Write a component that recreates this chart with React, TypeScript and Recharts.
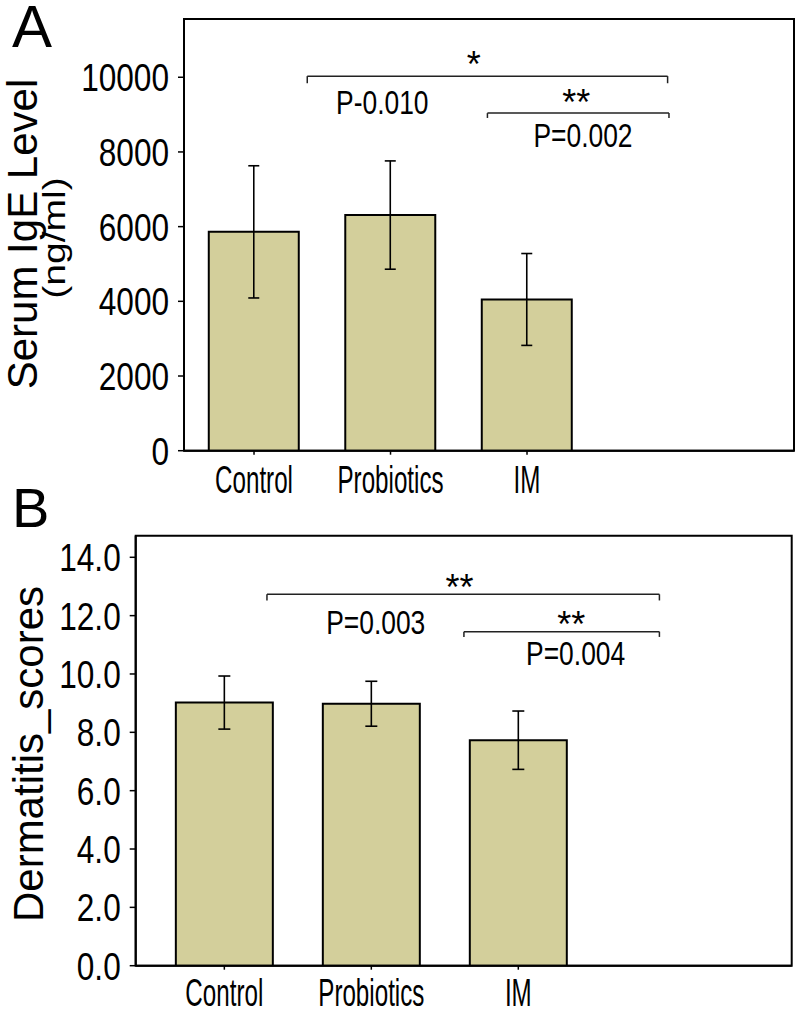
import React from 'react';
import {
  ComposedChart,
  Bar,
  XAxis,
  YAxis,
  ErrorBar,
  ReferenceLine,
  ReferenceDot,
  ReferenceArea,
} from 'recharts';

// ---------- data ----------
const groups = ['Control', 'Probiotics', 'IM'];
const groupPos = [1, 2, 3];

const igeMean = [5860, 6310, 4050];
const igeSD = [1770, 1450, 1230];
const igeTicks = [0, 2000, 4000, 6000, 8000, 10000];

const dermMean = [9.02, 8.98, 7.73];
const dermSD = [0.91, 0.77, 1.0];
const dermTicks = [0, 2, 4, 6, 8, 10, 12, 14];

// significance annotations (data coordinates)
const igeBrackets = [
  { x1: 1.39, x2: 4.03, y: 10030, yEnd: 9840 },
  { x1: 2.71, x2: 4.04, y: 9040, yEnd: 8910 },
];
const igeLabels = [
  { x: 2.61, y: 10530, text: '*', kind: 'star' },
  { x: 1.94, y: 9340, text: 'P-0.010', kind: 'p' },
  { x: 3.36, y: 9520, text: '**', kind: 'star' },
  { x: 3.41, y: 8440, text: 'P=0.002', kind: 'p' },
];

const dermBrackets = [
  { x1: 1.29, x2: 3.96, y: 12.73, yEnd: 12.52 },
  { x1: 2.63, x2: 3.96, y: 11.45, yEnd: 11.27 },
];
const dermLabels = [
  { x: 2.6, y: 13.22, text: '**', kind: 'star' },
  { x: 2.03, y: 11.79, text: 'P=0.003', kind: 'p' },
  { x: 3.36, y: 11.93, text: '**', kind: 'star' },
  { x: 3.39, y: 10.70, text: 'P=0.004', kind: 'p' },
];

const igeData = groups.map((g, i) => ({ name: g, pos: groupPos[i], mean: igeMean[i], sd: igeSD[i] }));
const dermData = groups.map((g, i) => ({ name: g, pos: groupPos[i], mean: dermMean[i], sd: dermSD[i] }));

const FONT = "'Liberation Sans', Arial, Helvetica, sans-serif";
const BAR_FILL = '#D3CF9B';

const makeYTick = (fmt: (v: number) => string) => (props: any) => {
  const { x, y, payload } = props;
  return (
    <text
      transform={`translate(${x},${y}) scale(0.81,1)`}
      textAnchor="end"
      dy="0.36em"
      fontSize={39}
      fontFamily={FONT}
      fill="#000"
    >
      {fmt(payload.value)}
    </text>
  );
};

const makeXTick = (dy: number) => (props: any) => {
  const { x, y, payload } = props;
  const idx = groupPos.indexOf(payload.value);
  return (
    <text
      transform={`translate(${x},${y + dy}) scale(0.62,1)`}
      textAnchor="middle"
      fontSize={39}
      fontFamily={FONT}
      fill="#000"
    >
      {idx >= 0 ? groups[idx] : ''}
    </text>
  );
};

const annotationShape = (text: string, kind: string) => (p: any) => {
  const { cx, cy } = p;
  if (kind === 'star') {
    return (
      <text x={cx} y={cy} dy="0.55em" textAnchor="middle" fontSize={36} fontFamily={FONT} fill="#000">
        {text}
      </text>
    );
  }
  return (
    <text
      transform={`translate(${cx},${cy}) scale(0.8,1)`}
      dy="0.36em"
      textAnchor="middle"
      fontSize={33}
      fontFamily={FONT}
      fill="#000"
    >
      {text}
    </text>
  );
};

type PanelProps = {
  data: any[];
  width: number;
  height: number;
  margin: any;
  xAxisHeight: number;
  xDomain: [number, number];
  yDomain: [number, number];
  yTicks: number[];
  yFmt: (v: number) => string;
  barSize: number;
  capWidth: number;
  xTickDy: number;
  brackets: any[];
  labels: any[];
};

const Panel = (p: PanelProps) => (
  <ComposedChart width={p.width} height={p.height} data={p.data} margin={p.margin}>
    <XAxis
      type="number"
      dataKey="pos"
      domain={p.xDomain}
      allowDataOverflow
      ticks={groupPos}
      interval={0}
      height={p.xAxisHeight}
      tickSize={4}
      tickMargin={0}
      tick={makeXTick(p.xTickDy)}
      axisLine={{ stroke: '#000', strokeWidth: 2 }}
      tickLine={{ stroke: '#000', strokeWidth: 1.5 }}
    />
    <YAxis
      type="number"
      domain={p.yDomain}
      allowDataOverflow
      ticks={p.yTicks}
      interval={0}
      width={100}
      tickSize={6}
      tickMargin={9}
      tick={makeYTick(p.yFmt)}
      axisLine={{ stroke: '#000', strokeWidth: 2 }}
      tickLine={{ stroke: '#000', strokeWidth: 1.5 }}
    />
    <ReferenceArea
      x1={p.xDomain[0]}
      x2={p.xDomain[1]}
      y1={p.yDomain[0]}
      y2={p.yDomain[1]}
      fill="none"
      fillOpacity={0}
      stroke="#000"
      strokeWidth={2}
      ifOverflow="visible"
    />
    <Bar dataKey="mean" fill={BAR_FILL} stroke="#000" strokeWidth={2} barSize={p.barSize} isAnimationActive={false}>
      <ErrorBar dataKey="sd" direction="y" width={p.capWidth} stroke="#000" strokeWidth={1.6} isAnimationActive={false} />
    </Bar>
    {p.brackets.map((b, i) => (
      <ReferenceLine
        key={`h${i}`}
        segment={[{ x: b.x1, y: b.y }, { x: b.x2, y: b.y }]}
        stroke="#222"
        strokeWidth={1.5}
        ifOverflow="visible"
      />
    ))}
    {p.brackets.map((b, i) => (
      <ReferenceLine
        key={`l${i}`}
        segment={[{ x: b.x1, y: b.y }, { x: b.x1, y: b.yEnd }]}
        stroke="#222"
        strokeWidth={1.5}
        ifOverflow="visible"
      />
    ))}
    {p.brackets.map((b, i) => (
      <ReferenceLine
        key={`r${i}`}
        segment={[{ x: b.x2, y: b.y }, { x: b.x2, y: b.yEnd }]}
        stroke="#222"
        strokeWidth={1.5}
        ifOverflow="visible"
      />
    ))}
    {p.labels.map((l, i) => (
      <ReferenceDot
        key={`t${i}`}
        x={l.x}
        y={l.y}
        r={1}
        ifOverflow="visible"
        shape={annotationShape(l.text, l.kind)}
      />
    ))}
  </ComposedChart>
);

export default function App() {
  return (
    <div style={{ position: 'absolute', left: 0, top: 0, width: 800, height: 1014, background: '#fff' }}>
      <div style={{ position: 'absolute', left: 0, top: 0 }}>
        <Panel
          data={igeData}
          width={800}
          height={500}
          margin={{ top: 19, right: 6, bottom: 0.3, left: 84 }}
          xAxisHeight={49}
          xDomain={[0.487, 4.956]}
          yDomain={[0, 11560]}
          yTicks={igeTicks}
          yFmt={(v) => String(v)}
          barSize={90}
          capWidth={5.5}
          xTickDy={38.5}
          brackets={igeBrackets}
          labels={igeLabels}
        />
      </div>
      <div style={{ position: 'absolute', left: 0, top: 500 }}>
        <Panel
          data={dermData}
          width={800}
          height={514}
          margin={{ top: 35.7, right: 8.3, bottom: 0.3, left: 35.7 }}
          xAxisHeight={48}
          xDomain={[0.397, 4.86]}
          yDomain={[0, 14.74]}
          yTicks={dermTicks}
          yFmt={(v) => v.toFixed(1)}
          barSize={97}
          capWidth={6}
          xTickDy={36.5}
          brackets={dermBrackets}
          labels={dermLabels}
        />
      </div>
      <svg
        width={800}
        height={1014}
        style={{ position: 'absolute', left: 0, top: 0, pointerEvents: 'none' }}
      >
        <text x={12} y={47} fontSize={60} fontFamily={FONT} fill="#000">A</text>
        <text x={12} y={527} fontSize={56} fontFamily={FONT} fill="#000">B</text>
        <text transform="translate(37,234) rotate(-90)" textAnchor="middle" fontSize={42} fontFamily={FONT} fill="#000">
          Serum IgE Level
        </text>
        <text transform="translate(65,238) rotate(-90) scale(1.22,1)" textAnchor="middle" fontSize={32} fontFamily={FONT} fill="#000">
          (ng/ml)
        </text>
        <text transform="translate(43,754) rotate(-90)" textAnchor="middle" fontSize={42} fontFamily={FONT} fill="#000">
          Dermatitis_scores
        </text>
      </svg>
    </div>
  );
}
